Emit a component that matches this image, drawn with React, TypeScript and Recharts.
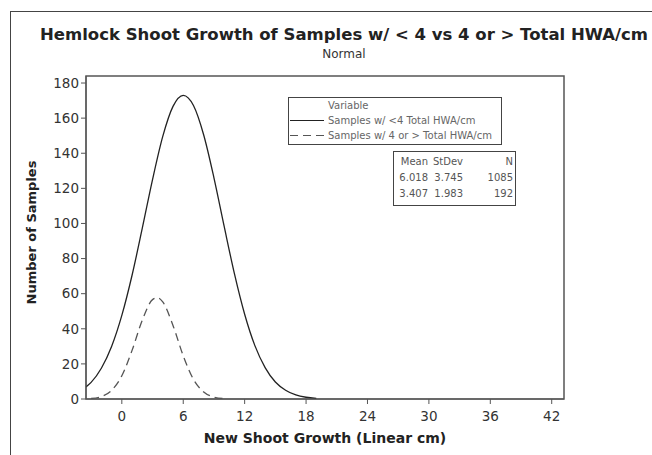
import React from "react";
import {
  Label,
  Line,
  LineChart,
  ReferenceArea,
  XAxis,
  YAxis,
} from "recharts";

// Fitted normal curves
const solidX = [-3.5, -3, -2, -1, 0, 1, 2, 3, 4, 5, 6, 7, 8, 9, 10, 11, 12, 13, 14, 15, 16, 17, 18, 19];
const solidY = [6.9, 9.5, 17.5, 29.9, 47.6, 70.5, 97.3, 125, 149.6, 166.7, 173, 167.2, 150.4, 126, 98.3, 71.4, 48.3, 30.4, 17.9, 9.7, 5, 2.3, 1, 0.4];

const dashedX = [-3, -2, -1, 0, 1, 2, 3, 3.5, 4, 5, 6, 7, 8, 9, 10];
const dashedY = [0.3, 1.4, 4.9, 13.2, 27.7, 44.9, 56.6, 57.7, 55.3, 41.9, 24.6, 11.2, 4, 1.1, 0.2];

const xTicks = [0, 6, 12, 18, 24, 30, 36, 42];
const yTicks = [0, 20, 40, 60, 80, 100, 120, 140, 160, 180];

const statsHeader = ["Mean", "StDev", "N"];
const statsRows = [
  ["6.018", "3.745", "1085"],
  ["3.407", "1.983", "192"],
];
const seriesNames = ["Samples w/ <4 Total HWA/cm", "Samples w/ 4 or > Total HWA/cm"];

const solidData = solidX.map((x, i) => ({ x, y: solidY[i] }));
const dashedData = dashedX.map((x, i) => ({ x, y: dashedY[i] }));

const font = "'DejaVu Sans', Verdana, sans-serif";
const tickStyle = { fontSize: 13.5, fill: "#333", fontFamily: font };

const App: React.FC = () => {
  return (
    <div style={{ position: "absolute", left: 0, top: 0, width: 652, height: 455, background: "#fff", fontFamily: font }}>
      {/* outer frame */}
      <div style={{ position: "absolute", left: 10, top: 11, width: 642, height: 444, borderTop: "1.5px solid #444", borderLeft: "1.5px solid #444" }} />
      <div style={{ position: "absolute", left: 30, width: 628, top: 25, textAlign: "center", fontWeight: "bold", fontSize: 16.5, color: "#222", whiteSpace: "nowrap" }}>
        Hemlock Shoot Growth of Samples w/ &lt; 4 vs 4 or &gt; Total HWA/cm
      </div>
      <div style={{ position: "absolute", left: 30, width: 628, top: 47, textAlign: "center", fontSize: 12, color: "#333" }}>
        Normal
      </div>

      <LineChart width={652} height={455} margin={{ top: 76, right: 88, bottom: 36, left: 25 }}>
        <XAxis
          type="number"
          dataKey="x"
          domain={[-3.5, 43.2]}
          ticks={xTicks}
          allowDataOverflow
          tick={tickStyle}
          tickSize={5}
          tickMargin={7}
          height={20}
          stroke="#555"
        >
          <Label value="New Shoot Growth (Linear cm)" position="insideBottom" offset={-24} style={{ fontWeight: "bold", fontSize: 14, fill: "#222", fontFamily: font }} />
        </XAxis>
        <YAxis
          type="number"
          dataKey="y"
          domain={[0, 184]}
          ticks={yTicks}
          allowDataOverflow
          tick={tickStyle}
          tickSize={5}
          width={61}
          stroke="#555"
        >
          <Label value="Number of Samples" angle={-90} position="insideLeft" offset={6} dy={-5} style={{ textAnchor: "middle", fontWeight: "bold", fontSize: 13, fill: "#222", fontFamily: font }} />
        </YAxis>
        <ReferenceArea x1={-3.5} x2={43.2} y1={0} y2={184} fill="none" stroke="#555" strokeWidth={1.5} />
        <Line data={solidData} dataKey="y" type="monotone" stroke="#222" strokeWidth={1.3} dot={false} isAnimationActive={false} />
        <Line data={dashedData} dataKey="y" type="monotone" stroke="#555" strokeWidth={1.3} strokeDasharray="8 5" dot={false} isAnimationActive={false} />
      </LineChart>

      {/* legend */}
      <div style={{ position: "absolute", left: 288, top: 97, width: 212, height: 46, border: "1px solid #444", fontSize: 10, color: "#666", lineHeight: "15px" }}>
        <div style={{ paddingLeft: 39 }}>Variable</div>
        <div style={{ display: "flex", alignItems: "center" }}>
          <svg width={36} height={15} style={{ flexShrink: 0 }}><line x1={1} y1={7.5} x2={35} y2={7.5} stroke="#222" strokeWidth={1.2} /></svg>
          <span style={{ marginLeft: 3, whiteSpace: "nowrap" }}>{seriesNames[0]}</span>
        </div>
        <div style={{ display: "flex", alignItems: "center" }}>
          <svg width={36} height={15} style={{ flexShrink: 0 }}><line x1={1} y1={7.5} x2={35} y2={7.5} stroke="#555" strokeWidth={1.2} strokeDasharray="8 5" /></svg>
          <span style={{ marginLeft: 3, whiteSpace: "nowrap" }}>{seriesNames[1]}</span>
        </div>
      </div>

      {/* stats table */}
      <div style={{ position: "absolute", left: 393, top: 151, width: 123, height: 55, border: "1px solid #444", fontSize: 10, color: "#555", lineHeight: "16px", paddingTop: 2, boxSizing: "border-box" }}>
        {[statsHeader, ...statsRows].map((row, r) => (
          <div key={r} style={{ display: "flex" }}>
            <span style={{ width: 34, textAlign: "right" }}>{row[0]}</span>
            <span style={{ width: 35, textAlign: "right" }}>{row[1]}</span>
            <span style={{ width: 50, textAlign: "right" }}>{row[2]}</span>
          </div>
        ))}
      </div>
    </div>
  );
};

export default App;
